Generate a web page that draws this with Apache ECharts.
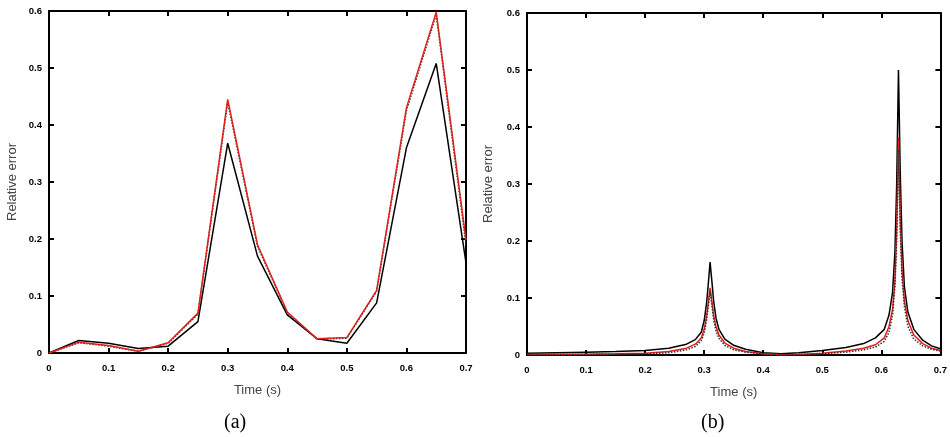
<!DOCTYPE html>
<html><head><meta charset="utf-8">
<script src="https://cdn.jsdelivr.net/npm/echarts@6/dist/echarts.min.js"></script>
<style>html,body{margin:0;padding:0;background:#fff}#c{width:950px;height:437px}</style>
</head><body><div id="c"></div>
<script>
// ---- Data ----
const leftTime = [0, 0.05, 0.1, 0.15, 0.2, 0.25, 0.3, 0.35, 0.4, 0.45, 0.5, 0.55, 0.6, 0.65, 0.7];
const leftBlack = [0, 0.022, 0.017, 0.008, 0.012, 0.055, 0.368, 0.17, 0.067, 0.025, 0.017, 0.088, 0.36, 0.508, 0.158];
const leftRed = [0, 0.019, 0.013, 0.003, 0.018, 0.07, 0.445, 0.19, 0.072, 0.025, 0.027, 0.11, 0.43, 0.598, 0.198];
const leftDotted = [0, 0.018, 0.012, 0.003, 0.017, 0.068, 0.44, 0.187, 0.071, 0.024, 0.026, 0.108, 0.425, 0.594, 0.19];

const rightTime = [0, 0.05, 0.1, 0.15, 0.2, 0.24, 0.27, 0.285, 0.295, 0.3, 0.304, 0.307, 0.31, 0.313, 0.316, 0.32, 0.325, 0.335, 0.35, 0.37, 0.4, 0.43, 0.46, 0.5, 0.54, 0.57, 0.59, 0.605, 0.613, 0.619, 0.623, 0.626, 0.629, 0.632, 0.635, 0.639, 0.645, 0.655, 0.67, 0.685, 0.7];
const rightBlack = [0.003, 0.004, 0.005, 0.006, 0.008, 0.012, 0.019, 0.027, 0.04, 0.06, 0.09, 0.125, 0.163, 0.13, 0.095, 0.065, 0.045, 0.028, 0.017, 0.01, 0.004, 0.002, 0.004, 0.008, 0.013, 0.02, 0.03, 0.045, 0.07, 0.11, 0.18, 0.3, 0.5, 0.32, 0.2, 0.12, 0.075, 0.045, 0.026, 0.016, 0.011];
const rightRed = [0.001, 0.001, 0.0015, 0.002, 0.003, 0.006, 0.012, 0.019, 0.03, 0.045, 0.068, 0.092, 0.118, 0.095, 0.07, 0.05, 0.035, 0.021, 0.012, 0.006, 0.002, 0.0005, 0.001, 0.003, 0.007, 0.012, 0.018, 0.03, 0.05, 0.08, 0.13, 0.22, 0.382, 0.24, 0.15, 0.095, 0.06, 0.035, 0.02, 0.012, 0.008];
const rightDotted = [0.001, 0.001, 0.001, 0.0015, 0.002, 0.004, 0.009, 0.015, 0.025, 0.038, 0.06, 0.085, 0.112, 0.088, 0.062, 0.042, 0.029, 0.017, 0.009, 0.005, 0.002, 0.0005, 0.001, 0.002, 0.005, 0.009, 0.014, 0.024, 0.04, 0.07, 0.12, 0.2, 0.36, 0.22, 0.135, 0.085, 0.05, 0.028, 0.016, 0.01, 0.007];

const xLabel = 'Time (s)';
const yLabel = 'Relative error';
const panelLabels = ['(a)', '(b)'];

// ---- Chart ----
const pair = (xs, ys) => xs.map((x, i) => [x, ys[i]]);
const FONT = '"Liberation Sans", Arial, sans-serif';
const tickLabel = {fontSize: 9.5, fontWeight: 'bold', color: '#000', fontFamily: FONT};
const axLine = {show: true, onZero: false, lineStyle: {color: '#000', width: 2}};
const tick = {show: true, inside: true, length: 5, lineStyle: {color: '#000', width: 2}};

function xAxes(gi) {
  return [
    {type: 'value', gridIndex: gi, min: 0, max: 0.7, interval: 0.1, position: 'bottom',
     axisLine: axLine, axisTick: tick, splitLine: {show: false},
     axisLabel: Object.assign({margin: 10, formatter: v => String(+v.toFixed(1))}, tickLabel),
     name: xLabel, nameLocation: 'middle', nameGap: 31,
     nameTextStyle: {fontSize: 13, color: '#444', fontFamily: FONT}},
    {type: 'value', gridIndex: gi, min: 0, max: 0.7, interval: 0.1, position: 'top',
     axisLine: axLine, axisTick: tick, splitLine: {show: false}, axisLabel: {show: false}}
  ];
}
function yAxes(gi, gap) {
  return [
    {type: 'value', gridIndex: gi, min: 0, max: 0.6, interval: 0.1, position: 'left',
     axisLine: axLine, axisTick: tick, splitLine: {show: false},
     axisLabel: Object.assign({margin: 7, formatter: v => String(+v.toFixed(1))}, tickLabel),
     name: yLabel, nameLocation: 'middle', nameGap: gap, nameRotate: 90,
     nameTextStyle: {fontSize: 13, color: '#444', fontFamily: FONT}},
    {type: 'value', gridIndex: gi, min: 0, max: 0.6, interval: 0.1, position: 'right',
     axisLine: axLine, axisTick: tick, splitLine: {show: false}, axisLabel: {show: false}}
  ];
}
function line(xi, yi, data, color, type) {
  return {type: 'line', xAxisIndex: xi, yAxisIndex: yi, data: data, showSymbol: false,
    symbol: 'none', smooth: false, animation: false,
    lineStyle: {color: color, width: 1.5, type: type}};
}

const chart = echarts.init(document.getElementById('c'), null, {renderer: 'canvas'});
chart.setOption({
  animation: false,
  backgroundColor: '#fff',
  grid: [
    {left: 49, right: 484, top: 11, bottom: 84},
    {left: 527, right: 5, top: 13, bottom: 82}
  ],
  xAxis: xAxes(0).concat(xAxes(1)),
  yAxis: yAxes(0, 30).concat(yAxes(1, 32)),
  series: [
    line(0, 0, pair(leftTime, leftBlack), '#000', 'solid'),
    line(0, 0, pair(leftTime, leftDotted), '#333', 'dotted'),
    line(0, 0, pair(leftTime, leftRed), '#e0201b', 'solid'),
    line(2, 2, pair(rightTime, rightBlack), '#000', 'solid'),
    line(2, 2, pair(rightTime, rightRed), '#e0201b', 'solid'),
    line(2, 2, pair(rightTime, rightDotted), '#333', 'dotted')
  ],
  graphic: [
    {type: 'text', left: 224, top: 413, style: {text: panelLabels[0], fontSize: 20, fontFamily: '"Liberation Serif", "Times New Roman", serif', fill: '#000'}},
    {type: 'text', left: 701, top: 413, style: {text: panelLabels[1], fontSize: 20, fontFamily: '"Liberation Serif", "Times New Roman", serif', fill: '#000'}}
  ]
});
</script>
</body></html>
